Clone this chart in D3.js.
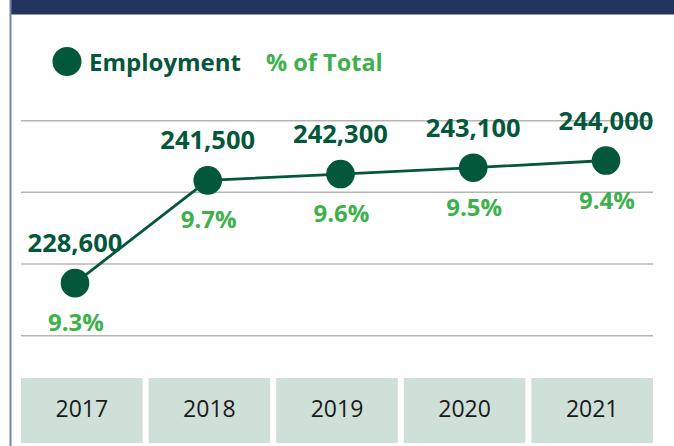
<!DOCTYPE html>
<html>
<head>
<meta charset="utf-8">
<script src="https://d3js.org/d3.v7.min.js"></script>
<style>
	body { margin: 0; background: #fff; }
	svg { display: block; font-family: "Open Sans", sans-serif; }
	.grid line { stroke: #b4b4b4; stroke-width: 1.5px; }
	.value { fill: #03573a; font-weight: bold; font-size: 25.5px; }
	.pct { fill: #3db14b; font-weight: bold; font-size: 24px; }
	.year { fill: #1a1a1a; font-size: 23px; }
</style>
</head>
<body>
<svg id="chart" width="674" height="446"></svg>
<script>
// data
var years = ["2017", "2018", "2019", "2020", "2021"];
var employment = [228600, 241500, 242300, 243100, 244000];
var pctOfTotal = [9.3, 9.7, 9.6, 9.5, 9.4];
var gridTicks = [222000, 231000, 240000, 249000];

var darkGreen = "#03573a",
	lightGreen = "#3db14b";

var svg = d3.select("#chart");

// frame: navy strip on top, thin rule on the left
svg.append("rect")
	.attr("x", 10).attr("y", 0)
	.attr("width", 664).attr("height", 14.5)
	.attr("fill", "#22355f");
svg.append("line")
	.attr("x1", 10.5).attr("x2", 10.5)
	.attr("y1", 0).attr("y2", 446)
	.attr("stroke", "#7484a8").attr("stroke-width", 2);

// legend
var legend = svg.append("g");
legend.append("circle")
	.attr("cx", 67).attr("cy", 61.5).attr("r", 14.5)
	.attr("fill", darkGreen);
legend.append("text")
	.attr("x", 89).attr("y", 70.5)
	.attr("fill", darkGreen)
	.style("font-weight", "bold").style("font-size", "24px")
	.text("Employment");
legend.append("text")
	.attr("x", 266).attr("y", 70.5)
	.attr("fill", lightGreen)
	.style("font-weight", "bold").style("font-size", "23.5px")
	.text("% of Total");

// scales
var x = d3.scalePoint()
	.domain(years)
	.range([75, 606]);

var band = d3.scaleBand()
	.domain(years)
	.range([21, 653])
	.paddingInner(0.047)
	.paddingOuter(0);

var y = d3.scaleLinear()
	.domain([222000, 249000])
	.range([335.7, 120.7]);

// gridlines
svg.append("g")
	.attr("class", "grid")
	.selectAll("line")
	.data(gridTicks)
	.enter().append("line")
	.attr("x1", 21).attr("x2", 653)
	.attr("y1", function(d) { return y(d); })
	.attr("y2", function(d) { return y(d); });

var points = years.map(function(yr, i) {
	return {year: yr, value: employment[i], pct: pctOfTotal[i]};
});

// line
var line = d3.line()
	.x(function(d) { return x(d.year); })
	.y(function(d) { return y(d.value); });

svg.append("path")
	.datum(points)
	.attr("d", line)
	.attr("fill", "none")
	.attr("stroke", darkGreen)
	.attr("stroke-width", 2.8);

svg.append("g")
	.selectAll("circle")
	.data(points)
	.enter().append("circle")
	.attr("cx", function(d) { return x(d.year); })
	.attr("cy", function(d) { return y(d.value); })
	.attr("r", 14.3)
	.attr("fill", darkGreen);

// labels
svg.append("g")
	.selectAll("text")
	.data(points)
	.enter().append("text")
	.attr("class", "value")
	.attr("text-anchor", "middle")
	.attr("x", function(d) { return x(d.year); })
	.attr("y", function(d) { return y(d.value) - 31; })
	.text(function(d) { return d3.format(",")(d.value); });

svg.append("g")
	.selectAll("text")
	.data(points)
	.enter().append("text")
	.attr("class", "pct")
	.attr("text-anchor", "middle")
	.attr("x", function(d) { return x(d.year) + 1; })
	.attr("y", function(d) { return y(d.value) + 48; })
	.text(function(d) { return d.pct.toFixed(1) + "%"; });

// year boxes along the bottom
var yearBox = svg.append("g")
	.selectAll("g")
	.data(years)
	.enter().append("g");

yearBox.append("rect")
	.attr("x", function(d) { return band(d); })
	.attr("y", 378)
	.attr("width", band.bandwidth())
	.attr("height", 65)
	.attr("fill", "#cfe0d8");

yearBox.append("text")
	.attr("class", "year")
	.attr("text-anchor", "middle")
	.attr("x", function(d) { return band(d) + band.bandwidth() / 2; })
	.attr("y", 417)
	.text(function(d) { return d; });
</script>
</body>
</html>
